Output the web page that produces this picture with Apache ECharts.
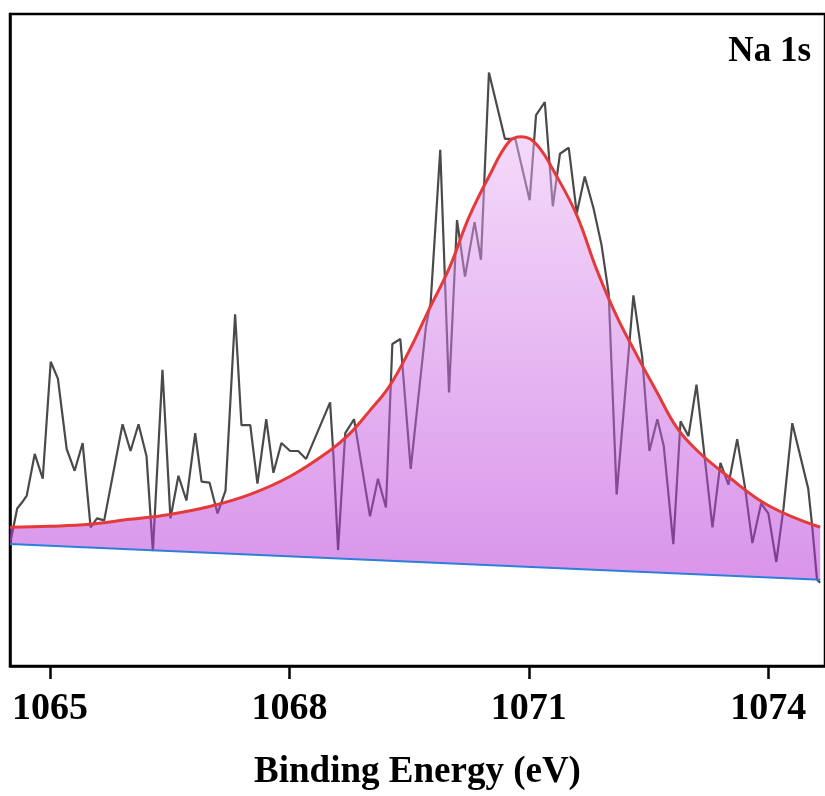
<!DOCTYPE html>
<html>
<head>
<meta charset="utf-8">
<script src="https://cdn.jsdelivr.net/npm/echarts@6/dist/echarts.min.js"></script>
<style>
  html, body { margin: 0; padding: 0; background: #fff; }
  #chart { width: 825px; height: 796px; }
</style>
</head>
<body>
<div id="chart"></div>
<script>
// raw Na 1s spectrum (binding energy in eV, intensity in a.u.)
const energy = [1064.51, 1064.59, 1064.65, 1064.71, 1064.81, 1064.91, 1065.01, 1065.10, 1065.21, 1065.31,
  1065.41, 1065.51, 1065.59, 1065.68, 1065.91, 1066.01, 1066.11, 1066.21, 1066.29, 1066.41,
  1066.51, 1066.61, 1066.71, 1066.82, 1066.90, 1067.00, 1067.10, 1067.20, 1067.32, 1067.40,
  1067.51, 1067.60, 1067.71, 1067.80, 1067.90, 1068.01, 1068.11, 1068.21, 1068.51, 1068.55,
  1068.61, 1068.70, 1068.81, 1068.91, 1069.01, 1069.11, 1069.21, 1069.29, 1069.39, 1069.52,
  1069.71, 1069.77, 1069.89, 1070.00, 1070.10, 1070.20, 1070.32, 1070.40, 1070.50, 1070.70,
  1070.83, 1071.01, 1071.09, 1071.20, 1071.30, 1071.39, 1071.50, 1071.60, 1071.70, 1071.81,
  1071.91, 1072.00, 1072.10, 1072.31, 1072.42, 1072.51, 1072.61, 1072.69, 1072.81, 1072.90,
  1073.00, 1073.10, 1073.19, 1073.30, 1073.40, 1073.50, 1073.61, 1073.71, 1073.80, 1073.91,
  1074.00, 1074.10, 1074.19, 1074.30, 1074.50, 1074.55, 1074.61, 1074.65];
const counts = [127, 159, 165, 172, 214, 189, 307, 290, 219, 197,
  225, 140, 149, 147, 244, 217, 244, 212, 116, 299,
  149, 192, 167, 235, 186, 185, 154, 177, 355, 243,
  243, 184, 249, 195, 225, 217, 217, 209, 266, 215,
  117, 235, 249, 200, 151, 189, 160, 325, 330, 199,
  342, 367, 521, 276, 450, 393, 448, 410, 599, 532,
  532, 470, 556, 569, 464, 517, 523, 457, 494, 462,
  425, 376, 173, 374, 312, 217, 249, 222, 123, 247,
  232, 284, 220, 140, 205, 183, 229, 179, 124, 164,
  154, 105, 159, 245, 179, 141, 87, 84];

// fitted peak envelope
const fitEnergy = [1064.50, 1065.00, 1065.50, 1066.00, 1066.50, 1067.00, 1067.50, 1068.00, 1068.50, 1068.75,
  1069.00, 1069.25, 1069.50, 1069.75, 1070.00, 1070.25, 1070.50, 1070.75, 1070.91, 1071.10,
  1071.35, 1071.60, 1071.85, 1072.10, 1072.35, 1072.60, 1072.85, 1073.10, 1073.50, 1074.00, 1074.65];
const fitCounts = [140, 141, 143, 148, 153, 161, 173, 191, 217, 234,
  257, 282, 318, 360, 401, 453, 494, 529, 534, 526,
  494, 455, 400, 353, 314, 277, 241, 218, 191, 162, 140];

// linear background
const baseEnergy = [1064.50, 1074.65];
const baseCounts = [123, 87];

const tickValues = [1065, 1068, 1071, 1074];

const serif = 'Liberation Serif, Times New Roman, serif';

let myChart = echarts.init(document.getElementById('chart'));
let option = {
  animation: false,
  title: {
    text: 'Na 1s',
    right: 9,
    top: 29,
    textStyle: { fontFamily: serif, fontWeight: 'bold', fontSize: 35, color: '#000' }
  },
  grid: {
    left: 10,
    right: -5,
    top: 14,
    bottom: 123,
    show: true,
    borderColor: '#000',
    borderWidth: 2.5
  },
  xAxis: {
    type: 'value',
    min: 1064.5,
    max: 1074.71,
    name: 'Binding Energy (eV)',
    nameLocation: 'middle',
    nameGap: 88,
    nameTextStyle: { fontFamily: serif, fontWeight: 'bold', fontSize: 37, color: '#000' },
    axisLine: { show: true, lineStyle: { color: '#000', width: 2.5 } },
    axisTick: {
      show: true,
      inside: false,
      length: 13,
      customValues: tickValues,
      lineStyle: { color: '#000', width: 2.5 }
    },
    axisLabel: {
      customValues: tickValues,
      margin: 24,
      fontFamily: serif,
      fontWeight: 'bold',
      fontSize: 38,
      color: '#000',
      formatter: function (v) { return String(v) }
    },
    splitLine: { show: false }
  },
  yAxis: {
    type: 'value',
    min: 0,
    max: 658,
    axisLine: { show: true, lineStyle: { color: '#000', width: 2.5 } },
    axisTick: { show: false },
    axisLabel: { show: false },
    splitLine: { show: false }
  },
  series: [
    {
      name: 'raw',
      type: 'line',
      data: energy.map((e, i) => [e, counts[i]]),
      showSymbol: false,
      lineStyle: { color: '#4a4a4a', width: 2.2 },
      z: 1
    },
    {
      name: 'area',
      type: 'custom',
      data: [[fitEnergy[0], fitCounts[0]]],
      silent: true,
      z: 2,
      renderItem: function (params, api) {
        let pts = fitEnergy.map((e, i) => api.coord([e, fitCounts[i]]))
        pts.push(api.coord([baseEnergy[1], baseCounts[1]]))
        pts.push(api.coord([baseEnergy[0], baseCounts[0]]))
        return {
          type: 'polygon',
          shape: { points: pts },
          style: {
            fill: new echarts.graphic.LinearGradient(0, 0, 0, 1, [
              { offset: 0, color: 'rgba(233,180,245,0.5)' },
              { offset: 1, color: 'rgba(179,43,213,0.5)' }
            ])
          }
        }
      }
    },
    {
      name: 'background',
      type: 'line',
      data: baseEnergy.map((e, i) => [e, baseCounts[i]]),
      showSymbol: false,
      lineStyle: { color: '#2f7fd8', width: 2 },
      z: 3
    },
    {
      name: 'fit',
      type: 'line',
      data: fitEnergy.map((e, i) => [e, fitCounts[i]]),
      smooth: 0.4,
      showSymbol: false,
      lineStyle: { color: '#e53a3a', width: 3 },
      z: 4
    }
  ]
}
myChart.setOption(option)
</script>
</body>
</html>
